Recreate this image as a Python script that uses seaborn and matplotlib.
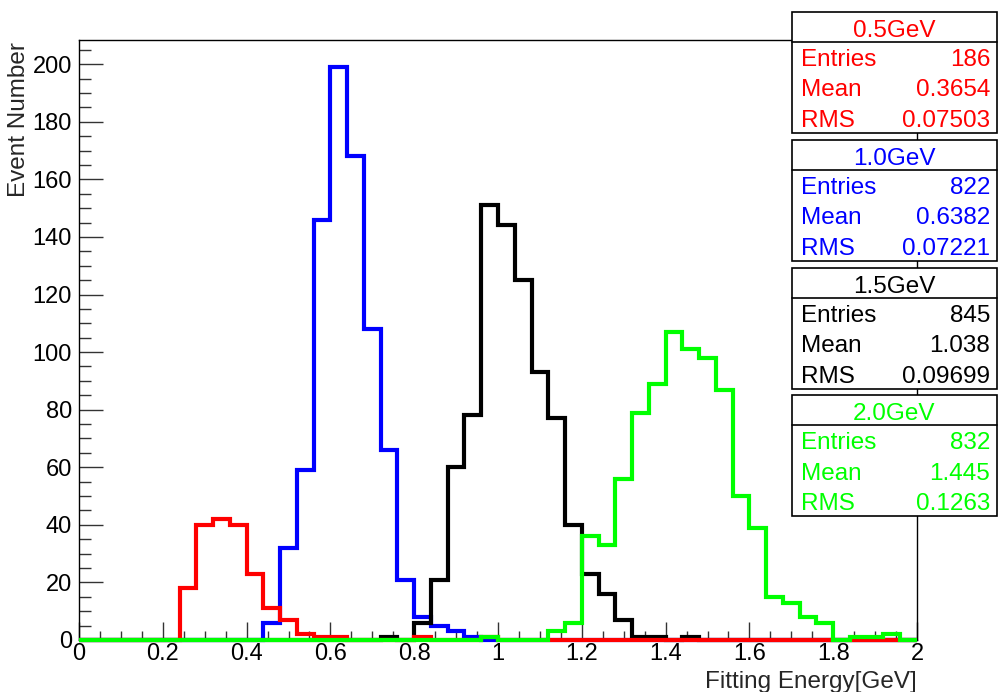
import numpy as np
import pandas as pd
import matplotlib
matplotlib.use("Agg")
import matplotlib.pyplot as plt
from matplotlib.patches import Rectangle
from matplotlib.lines import Line2D
from matplotlib.ticker import MultipleLocator, FuncFormatter
import seaborn as sns

# ---------------- data ----------------
x_min, x_max, bin_width = 0.0, 2.0, 0.04

counts_05 = [0, 0, 0, 0, 0, 0, 18, 40, 42, 40,
             23, 11, 7, 2, 1, 1, 0, 0, 0, 0,
             1, 0, 0, 0, 1, 0, 0, 0, 0, 0,
             0, 0, 0, 0, 0, 0, 0, 0, 0, 0,
             0, 0, 0, 0, 0, 0, 0, 0, 0, 0]
counts_10 = [0, 0, 0, 0, 0, 0, 0, 0, 0, 0,
             0, 6, 32, 59, 146, 199, 168, 108, 66, 21,
             8, 5, 3, 1, 0, 0, 0, 0, 0, 0,
             0, 0, 0, 0, 0, 0, 0, 0, 0, 0,
             0, 0, 0, 0, 0, 0, 0, 0, 0, 0]
counts_15 = [0, 0, 0, 0, 0, 0, 0, 0, 0, 0,
             0, 0, 0, 0, 0, 0, 0, 0, 1, 0,
             6, 21, 60, 78, 151, 144, 125, 93, 77, 40,
             23, 16, 7, 1, 1, 0, 1, 0, 0, 0,
             0, 0, 0, 0, 0, 0, 0, 0, 0, 0]
counts_20 = [0, 0, 0, 0, 0, 0, 0, 0, 0, 0,
             0, 0, 0, 0, 0, 0, 0, 0, 0, 0,
             0, 0, 0, 0, 1, 0, 0, 0, 3, 6,
             36, 33, 56, 79, 89, 107, 101, 98, 87, 50,
             39, 15, 13, 8, 6, 0, 1, 1, 2, 0]

series_counts = [counts_05, counts_10, counts_15, counts_20]
series_colors = ["#ff0000", "#0000ff", "#000000", "#00ff00"]
draw_order = [1, 2, 0, 3]   # blue, black, red, green (green on top)
stat_titles = ["0.5GeV", "1.0GeV", "1.5GeV", "2.0GeV"]
stat_entries = ["186", "822", "845", "832"]
stat_means = ["0.3654", "0.6382", "1.038", "1.445"]
stat_rms = ["0.07503", "0.07221", "0.09699", "0.1263"]

x_label = "Fitting Energy[GeV]"
y_label = "Event Number"

# ---------------- style ----------------
sns.set_theme(style="white")
plt.rcParams["font.family"] = ["Liberation Sans", "DejaVu Sans"]
plt.rcParams["axes.edgecolor"] = "black"
plt.rcParams["axes.linewidth"] = 1.0

W, H = 998, 692
fig = plt.figure(figsize=(W / 100, H / 100), dpi=100)
fig.patch.set_facecolor("white")

ax_l, ax_r, ax_t, ax_b = 79, 917, 40, 640
ax = fig.add_axes([ax_l / W, 1 - ax_b / H, (ax_r - ax_l) / W, (ax_b - ax_t) / H])
ax.set_facecolor("white")

n_bins = len(counts_05)
edges = x_min + bin_width * np.arange(n_bins + 1)
centers = edges[:-1] + bin_width / 2
edge_list = [float(e) for e in edges]

for i in draw_order:
    df = pd.DataFrame({"energy": centers, "count": series_counts[i]})
    sns.histplot(data=df, x="energy", weights="count", bins=edge_list,
                 element="step", fill=False, color=series_colors[i], linewidth=3.0,
                 ax=ax, legend=False)

for ln in ax.lines:
    ln.set_clip_on(False)
    ln.set_zorder(3)
    ln.set_solid_joinstyle("miter")
    ln.set_solid_capstyle("butt")

ax.set_xlim(x_min, x_max)
ax.set_ylim(0, 208.4)

for sp in ax.spines.values():
    sp.set_visible(True)
    sp.set_color("black")
    sp.set_linewidth(1.0)

ax.xaxis.set_major_locator(MultipleLocator(0.2))
ax.xaxis.set_minor_locator(MultipleLocator(0.05))
ax.yaxis.set_major_locator(MultipleLocator(20))
ax.yaxis.set_minor_locator(MultipleLocator(5))
ax.xaxis.set_major_formatter(FuncFormatter(lambda v, p: f"{v:g}"))
ax.yaxis.set_major_formatter(FuncFormatter(lambda v, p: f"{v:g}"))

ax.tick_params(axis="both", which="both", direction="in", top=False, right=False,
               bottom=True, left=True,
               colors="#333333", labelcolor="black", width=1.0)
ax.tick_params(axis="x", which="major", length=13, pad=2, labelsize=17)
ax.tick_params(axis="x", which="minor", length=6.5)
ax.tick_params(axis="y", which="major", length=17, pad=5, labelsize=17)
ax.tick_params(axis="y", which="minor", length=8.5)

ax.set_xlabel(x_label, fontsize=17.5, loc="right")
ax.xaxis.set_label_coords(1.0, (ax_b - 671) / (ax_b - ax_t))
ax.set_ylabel(y_label, fontsize=17.5, loc="top")
ax.yaxis.set_label_coords((30 - ax_l) / (ax_r - ax_l), 1 - 2 / (ax_b - ax_t))

# ---------------- stats boxes ----------------
def fx(px):
    return px / W

def fy(py):
    return 1 - py / H

box_left, box_right = 792, 997
box_tops = [12, 140, 268, 395]
box_h = 121
for top, col, ttl, ent, mn, rms in zip(box_tops, series_colors, stat_titles,
                                       stat_entries, stat_means, stat_rms):
    rect = Rectangle((fx(box_left), fy(top + box_h)), fx(box_right) - fx(box_left),
                     box_h / H, transform=fig.transFigure, facecolor="white",
                     edgecolor="black", linewidth=1.2, zorder=5)
    fig.add_artist(rect)
    sep = Line2D([fx(box_left), fx(box_right)], [fy(top + 30), fy(top + 30)],
                 transform=fig.transFigure, color="black", linewidth=1.2, zorder=6)
    fig.add_artist(sep)
    fig.text(fx((box_left + box_right) / 2), fy(top + 25), ttl, color=col,
             fontsize=17.5, ha="center", va="baseline", zorder=7)
    for k, (lab, val) in enumerate([("Entries", ent), ("Mean", mn), ("RMS", rms)]):
        yb = top + 54 + 30.5 * k
        fig.text(fx(801), fy(yb), lab, color=col, fontsize=17.5,
                 ha="left", va="baseline", zorder=7)
        fig.text(fx(990), fy(yb), val, color=col, fontsize=17.5,
                 ha="right", va="baseline", zorder=7)

fig.savefig("out.png", dpi=100, facecolor="white")
